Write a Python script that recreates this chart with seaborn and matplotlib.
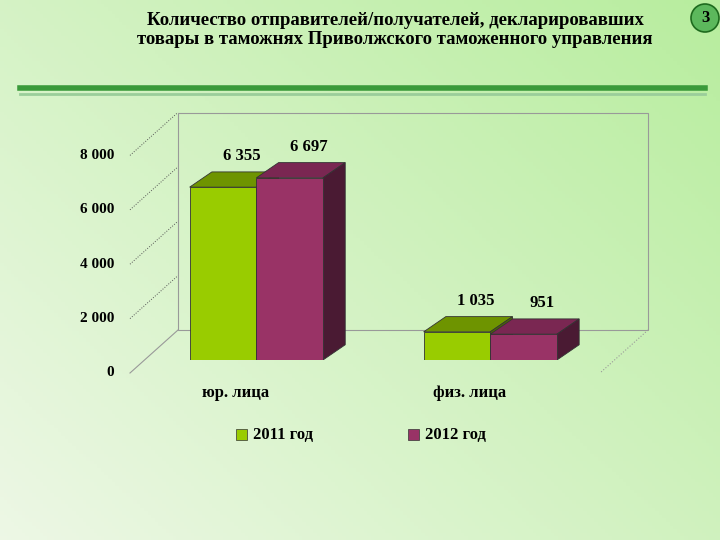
import numpy as np
import pandas as pd
import matplotlib
matplotlib.use("Agg")
import matplotlib.pyplot as plt
import seaborn as sns
from matplotlib.patches import Polygon, Rectangle, Circle

categories = ["юр. лица", "физ. лица"]
years = ["2011 год", "2012 год"]
values_2011 = [6355, 1035]
values_2012 = [6697, 951]
labels_2011 = ["6 355", "1 035"]
labels_2012 = ["6 697", "951"]
yticks = [0, 2000, 4000, 6000, 8000]
ytick_labels = ["0", "2 000", "4 000", "6 000", "8 000"]

front = {"2011 год": "#99CC00", "2012 год": "#993366"}
top = {"2011 год": "#6E9400", "2012 год": "#7A2752"}
side = {"2011 год": "#4F6B00", "2012 год": "#4A1A33"}

df = pd.DataFrame({
    "cat": categories * 2,
    "year": [years[0]] * 2 + [years[1]] * 2,
    "val": values_2011 + values_2012,
})

W, H = 720, 540
fig = plt.figure(figsize=(7.2, 5.4), dpi=100)
plt.rcParams["font.family"] = ["Liberation Serif", "DejaVu Serif"]

# background gradient
bg = fig.add_axes([0, 0, 1, 1], zorder=-10)
gx, gy = np.meshgrid(np.linspace(0, 1, 200), np.linspace(0, 1, 150))
g = np.clip(0.55 * gx + 0.45 * (1 - gy), 0, 1)
c0 = np.array([0.93, 0.97, 0.90])
c1 = np.array([0.72, 0.93, 0.62])
img = c0[None, None, :] * (1 - g[..., None]) + c1[None, None, :] * g[..., None]
bg.imshow(img, extent=[0, W, H, 0], aspect="auto")
bg.set_xlim(0, W); bg.set_ylim(H, 0); bg.axis("off")
# title lines
bg.plot([20, 705], [88, 88], color="#3A9A3A", lw=4)
bg.plot([20, 705], [94, 94], color="#9ACD9A", lw=2)
bg.add_patch(Circle((705, 18), 14, color="#5CB85C", ec="#1E6B1E", lw=1.2))
bg.text(705, 18, "3", ha="center", va="center", fontsize=12, fontweight="bold")
bg.text(395, 30, "Количество отправителей/получателей, декларировавших\nтовары в таможнях Приволжского таможенного управления",
        ha="center", va="center", fontsize=13.5, fontweight="bold", linespacing=1.15)
# 3D wall and floor
dy = 43
bg.add_patch(Polygon([(178, 113), (648, 113), (648, 330), (178, 330)], closed=True,
                     fc="none", ec="#999999", lw=0.8))
bg.plot([178, 130], [330, 373], color="#999999", lw=0.8)
bg.plot([648, 600], [330, 373], color="#999999", lw=0.8, ls=":")
for t in yticks[1:]:
    yb = 330 - t * 0.0272
    bg.plot([130, 178], [yb + dy, yb], color="#555555", lw=0.7, ls=":")
for t, lab in zip(yticks, ytick_labels):
    bg.text(114, 373 - t * 0.0272, lab, ha="right", va="center", fontsize=11, fontweight="bold")

# bars
ax = fig.add_axes([130 / W, 1 - 360 / H, 510 / W, (9400 * 0.0272) / H])
ax.patch.set_alpha(0)
sns.barplot(data=df, x="cat", y="val", hue="year", palette=front, width=0.57,
            saturation=1, edgecolor="#333333", linewidth=0.6, ax=ax, legend=False)
ax.set_xlim(-0.54, 1.64)
ax.set_ylim(0, 9400)
ax.axis("off")

ux = 0.095   # depth in x data units
uy = 560     # depth in y data units
for k, (container, yr) in enumerate(zip(ax.containers, years)):
    z = 2 + 2 * k
    for bar in container:
        bar.set_zorder(z + 1)
        x0, w, h = bar.get_x(), bar.get_width(), bar.get_height()
        ax.add_patch(Polygon([(x0, h), (x0 + w, h), (x0 + w + ux, h + uy), (x0 + ux, h + uy)],
                             closed=True, fc=top[yr], ec="#333333", lw=0.6, zorder=z))
        ax.add_patch(Polygon([(x0 + w, 0), (x0 + w + ux, uy), (x0 + w + ux, h + uy), (x0 + w, h)],
                             closed=True, fc=side[yr], ec="#333333", lw=0.6, zorder=z))

for container, labs in zip(ax.containers, [labels_2011, labels_2012]):
    for bar, lab in zip(container, labs):
        ax.text(bar.get_x() + bar.get_width() / 2 + 0.08, bar.get_height() + 1150, lab,
                ha="center", va="center", fontsize=12, fontweight="bold", zorder=10)

for i, c in enumerate(categories):
    bg.text(256 + i * 234 - 20, 393, c, ha="center", va="center", fontsize=12, fontweight="bold")

# legend
for xl, yr in zip([236, 408], years):
    bg.add_patch(Rectangle((xl, 429), 11, 11, fc=front[yr], ec="#333333", lw=0.5))
    bg.text(xl + 17, 435, yr, ha="left", va="center", fontsize=12, fontweight="bold")

fig.savefig("out.png", dpi=100)
